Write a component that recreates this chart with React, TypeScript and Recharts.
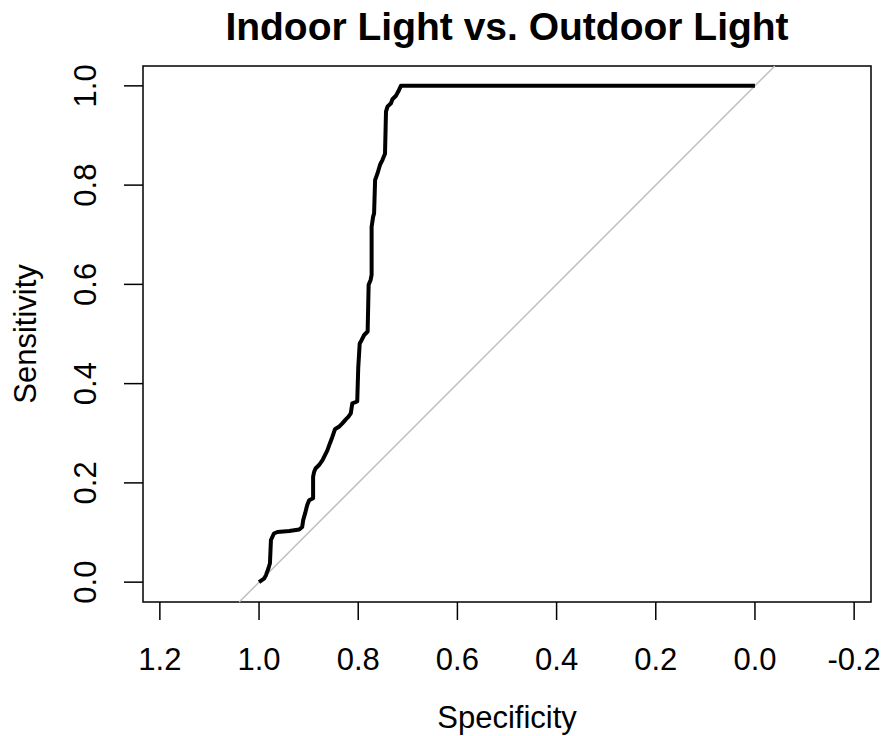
import React from 'react';
import {
  LineChart,
  Line,
  XAxis,
  YAxis,
  ReferenceLine,
  ReferenceArea,
  Customized,
} from 'recharts';

const specificity = [
  1.0, 0.99, 0.986, 0.981, 0.978, 0.976, 0.97, 0.963, 0.939, 0.919, 0.913, 0.911,
  0.907, 0.903, 0.899, 0.891, 0.891, 0.889, 0.886, 0.879, 0.872, 0.867, 0.862,
  0.857, 0.852, 0.847, 0.839, 0.832, 0.825, 0.82, 0.815, 0.812, 0.802, 0.8,
  0.797, 0.793, 0.788, 0.781, 0.779, 0.775, 0.773, 0.773, 0.77, 0.768, 0.766,
  0.761, 0.756, 0.751, 0.746, 0.744, 0.741, 0.734, 0.731, 0.724, 0.719, 0.714,
  0.0,
];

const sensitivity = [
  0.0, 0.007, 0.014, 0.028, 0.038, 0.085, 0.098, 0.101, 0.103, 0.106, 0.111,
  0.125, 0.139, 0.155, 0.165, 0.169, 0.212, 0.222, 0.229, 0.236, 0.246, 0.256,
  0.266, 0.28, 0.293, 0.308, 0.313, 0.32, 0.328, 0.333, 0.34, 0.36, 0.364,
  0.431, 0.481, 0.488, 0.498, 0.505, 0.599, 0.609, 0.619, 0.716, 0.736, 0.743,
  0.81, 0.824, 0.841, 0.851, 0.863, 0.948, 0.958, 0.965, 0.973, 0.98, 0.989,
  1.0, 1.0,
];

const xTicks = [1.2, 1.0, 0.8, 0.6, 0.4, 0.2, 0.0, -0.2];
const yTicks = [0.0, 0.2, 0.4, 0.6, 0.8, 1.0];

const title = 'Indoor Light vs. Outdoor Light';
const xLabel = 'Specificity';
const yLabel = 'Sensitivity';

const rocData = specificity.map((s, i) => ({ spec: s, sens: sensitivity[i] }));

const FONT = '"Liberation Sans", Arial, sans-serif';

const YTick = (props: any) => {
  const { x, y, payload } = props;
  return (
    <text
      x={x}
      y={y}
      transform={`rotate(-90, ${x}, ${y})`}
      textAnchor="middle"
      fontSize={31}
      fill="#000"
      fontFamily={FONT}
    >
      {Number(payload.value).toFixed(1)}
    </text>
  );
};

const Labels = () => (
  <g fontFamily={FONT} fill="#000">
    <text x={507} y={40} textAnchor="middle" fontSize={39} fontWeight="bold">
      {title}
    </text>
    <text x={507} y={728} textAnchor="middle" fontSize={31}>
      {xLabel}
    </text>
    <text
      x={36}
      y={334}
      textAnchor="middle"
      fontSize={31}
      transform="rotate(-90, 36, 334)"
    >
      {yLabel}
    </text>
  </g>
);

export default function App() {
  return (
    <div style={{ position: 'absolute', left: 0, top: 0, background: '#fff' }}>
      <LineChart
        width={883}
        height={736}
        data={rocData}
        margin={{ top: 66, right: 12, bottom: 0, left: 0 }}
        style={{ fontFamily: FONT }}
      >
        <XAxis
          dataKey="spec"
          type="number"
          domain={[-0.234, 1.234]}
          reversed
          allowDataOverflow
          ticks={xTicks}
          interval={0}
          height={134}
          tickSize={18}
          tickMargin={28}
          axisLine={false}
          tickLine={{ stroke: '#000', strokeWidth: 1.5 }}
          tick={{ fill: '#000', fontSize: 31, fontFamily: FONT }}
          tickFormatter={(v: number) => v.toFixed(1)}
        />
        <YAxis
          type="number"
          domain={[-0.04, 1.04]}
          allowDataOverflow
          ticks={yTicks}
          interval={0}
          width={143}
          tickSize={19}
          tickMargin={28}
          axisLine={false}
          tickLine={{ stroke: '#000', strokeWidth: 1.5 }}
          tick={<YTick />}
        />
        <ReferenceArea
          x1={-0.234}
          x2={1.234}
          y1={-0.04}
          y2={1.04}
          fill="none"
          fillOpacity={0}
          stroke="#000"
          strokeWidth={1.5}
        />
        <ReferenceLine
          segment={[
            { x: 1.04, y: -0.04 },
            { x: -0.04, y: 1.04 },
          ]}
          stroke="#bebebe"
          strokeWidth={1.5}
        />
        <Line
          dataKey="sens"
          type="linear"
          stroke="#000"
          strokeWidth={4}
          dot={false}
          activeDot={false}
          isAnimationActive={false}
          strokeLinejoin="round"
        />
        <Customized component={<Labels />} />
      </LineChart>
    </div>
  );
}
